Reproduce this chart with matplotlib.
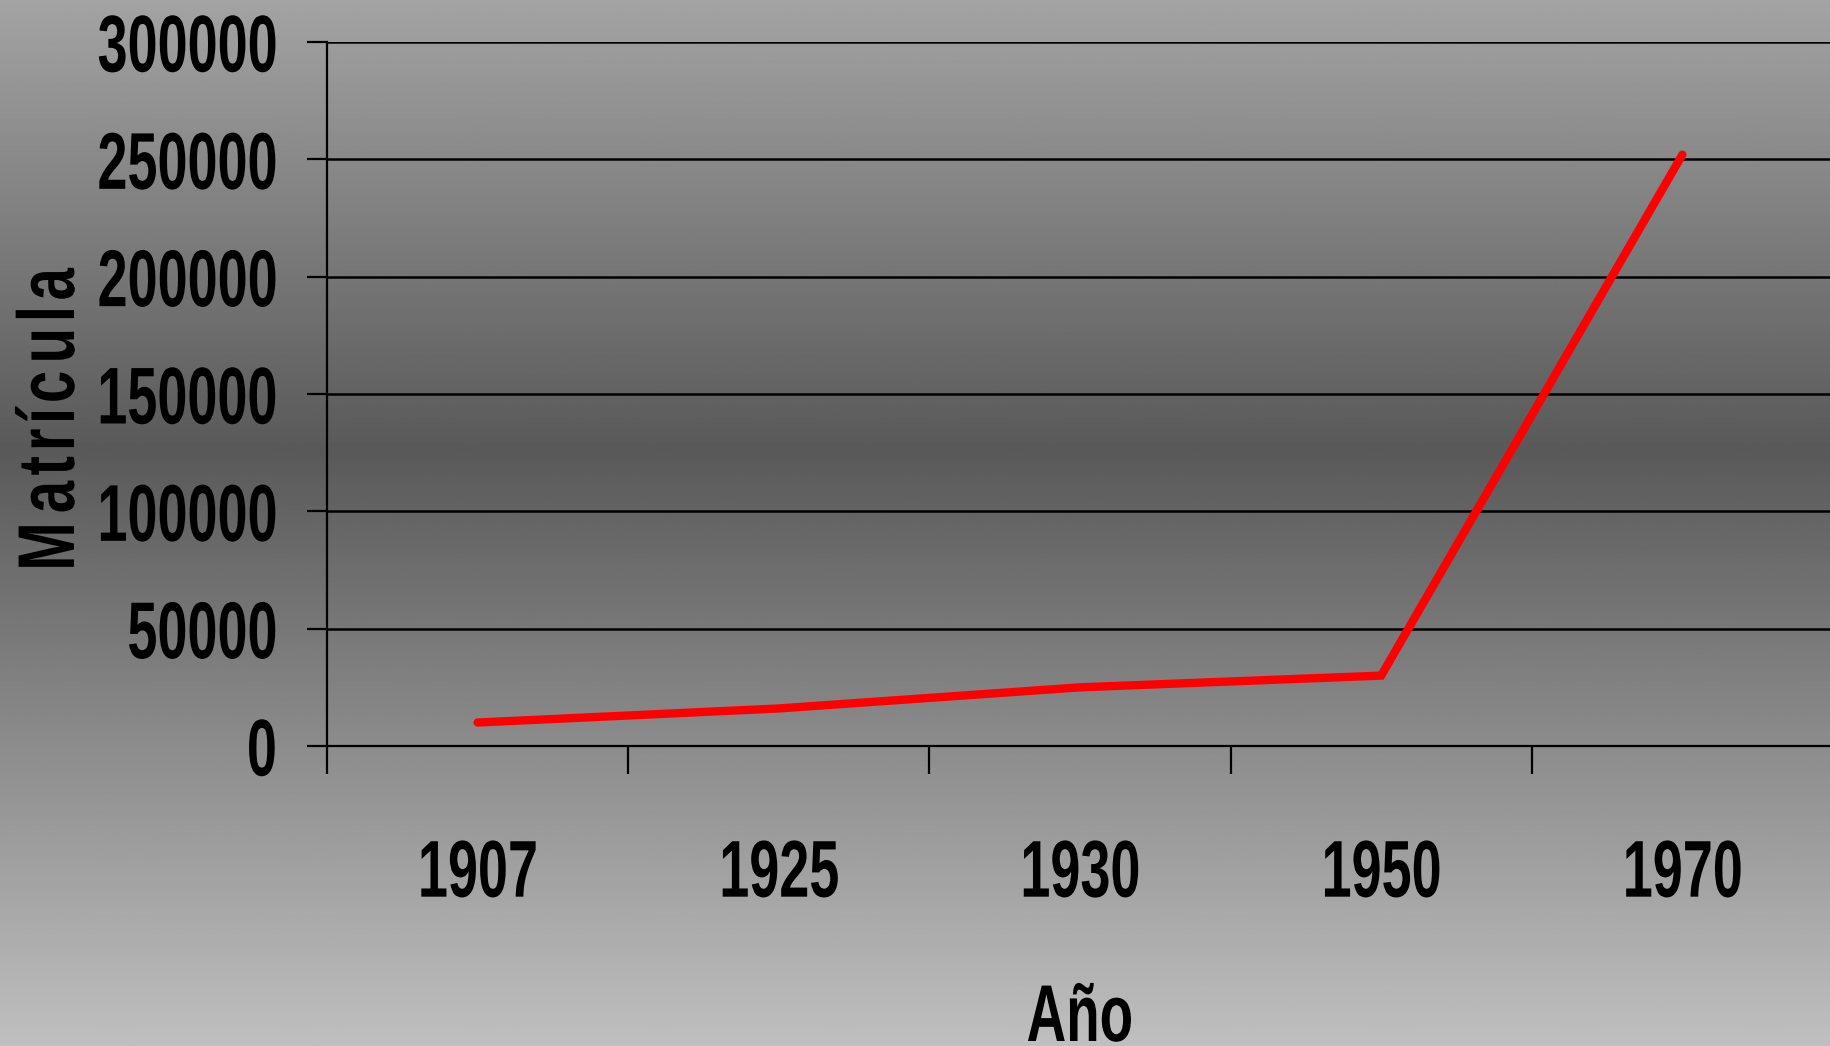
import numpy as np
import matplotlib
matplotlib.use("Agg")
import matplotlib.pyplot as plt
from matplotlib import font_manager
from matplotlib.patheffects import AbstractPathEffect
from matplotlib.transforms import Affine2D
from matplotlib.path import Path

# ---- data ----
years = ["1907", "1925", "1930", "1950", "1970"]
matricula = [10000, 16000, 25000, 30000, 252000]
y_ticks = [0, 50000, 100000, 150000, 200000, 250000, 300000]
x_title = "Año"
y_title = "Matrícula"

names = {f.name for f in font_manager.fontManager.ttflist}
FONT = "Liberation Sans" if "Liberation Sans" in names else "DejaVu Sans"
plt.rcParams["font.family"] = [FONT, "DejaVu Sans"]
plt.rcParams["font.weight"] = "bold"


class Squeeze(AbstractPathEffect):
    """Scale the drawn text glyphs (narrow font look); optional per-glyph narrowing."""
    def __init__(self, sx=1.0, sy=1.0, anchor="center", glyph_sx=1.0):
        super().__init__()
        self.sx, self.sy, self.anchor, self.glyph_sx = sx, sy, anchor, glyph_sx

    def _narrow_glyphs(self, tpath):
        verts = np.array(tpath.vertices, dtype=float)
        codes = tpath.codes
        if codes is None or self.glyph_sx == 1.0:
            return tpath
        starts = list(np.where(codes == Path.MOVETO)[0]) + [len(codes)]
        contours = []
        for a, b in zip(starts[:-1], starts[1:]):
            idx = np.arange(a, b)
            valid = idx[codes[idx] != Path.CLOSEPOLY]
            if len(valid) == 0:
                continue
            contours.append((verts[valid, 0].min(), verts[valid, 0].max(), a, b))
        contours.sort()
        groups = []
        for c in contours:
            if groups and c[0] < groups[-1][1] - 1e-6:
                g = groups[-1]
                g[1] = max(g[1], c[1])
                g[2].append((c[2], c[3]))
            else:
                groups.append([c[0], c[1], [(c[2], c[3])]])
        for x0, x1, segs in groups:
            cx = 0.5 * (x0 + x1)
            for a, b in segs:
                verts[a:b, 0] = cx + (verts[a:b, 0] - cx) * self.glyph_sx
        return Path(verts, codes)

    def draw_path(self, renderer, gc, tpath, affine, rgbFace=None):
        tpath = self._narrow_glyphs(tpath)
        ext = affine.transform_path(tpath).get_extents()
        if self.anchor == "right":
            x0 = ext.x1
        elif self.anchor == "left":
            x0 = ext.x0
        else:
            x0 = 0.5 * (ext.x0 + ext.x1)
        y0 = 0.5 * (ext.y0 + ext.y1)
        t = affine + Affine2D().translate(-x0, -y0).scale(self.sx, self.sy).translate(x0, y0)
        renderer.draw_path(gc, tpath, t, rgbFace)


W, H = 1831, 1046
fig = plt.figure(figsize=(W / 100, H / 100), dpi=100)

# background vertical gradient
yy = np.linspace(0, 1, 400)
g = np.where(yy < 0.43, 0.64 - (yy / 0.43) * 0.29, 0.35 + (yy - 0.43) / 0.57 * 0.40)
grad = np.tile(g[:, None], (1, 10))
bg = fig.add_axes([0, 0, 1, 1], zorder=-10)
bg.imshow(grad, aspect="auto", cmap="gray", vmin=0, vmax=1, extent=[0, 1, 0, 1])
bg.axis("off")

left, right, top, bottom = 327, 1833, 42, 746
ax = fig.add_axes([left / W, 1 - bottom / H, (right - left) / W, (bottom - top) / H])
ax.set_facecolor("none")

x = np.arange(len(years))
ax.plot(x, matricula, color="#ff0000", lw=6, solid_capstyle="round",
        solid_joinstyle="miter", zorder=3)

ax.set_xlim(-0.5, len(years) - 0.5)
ax.set_ylim(0, 300000)
ax.set_yticks(y_ticks)
ax.set_yticklabels([str(v) for v in y_ticks], fontsize=58, fontweight="bold")
ax.yaxis.grid(True, color="black", lw=1.8, zorder=1)
ax.set_axisbelow(True)

ax.set_xticks(np.arange(-0.5, len(years), 1.0))
ax.set_xticklabels([])
ax.set_xticks(x, minor=True)
ax.set_xticklabels(years, minor=True, fontsize=58, fontweight="bold")
ax.tick_params(axis="x", which="major", length=20, width=1.6, color="black")
ax.tick_params(axis="x", which="minor", length=0, pad=66)
ax.tick_params(axis="y", length=14.4, width=1.6, color="black", pad=21)

for lab in ax.get_yticklabels():
    lab.set_path_effects([Squeeze(sx=0.67, anchor="right")])
for lab in ax.get_xticklabels(minor=True):
    lab.set_path_effects([Squeeze(sx=0.67)])

for s in ["top", "right"]:
    ax.spines[s].set_visible(False)
for s in ["left", "bottom"]:
    ax.spines[s].set_color("black")
    ax.spines[s].set_linewidth(1.6)

t1 = fig.text(53 / W, 1 - 421 / H, y_title, rotation=90, ha="center", va="center",
              fontsize=58, fontweight="bold")
t1.set_path_effects([Squeeze(sy=0.88, glyph_sx=0.82)])
t2 = fig.text(1080 / W, (H - 1041) / H, x_title, ha="center", va="baseline",
              fontsize=58, fontweight="bold")
t2.set_path_effects([Squeeze(sx=0.68)])

fig.savefig("out.png", dpi=100)
